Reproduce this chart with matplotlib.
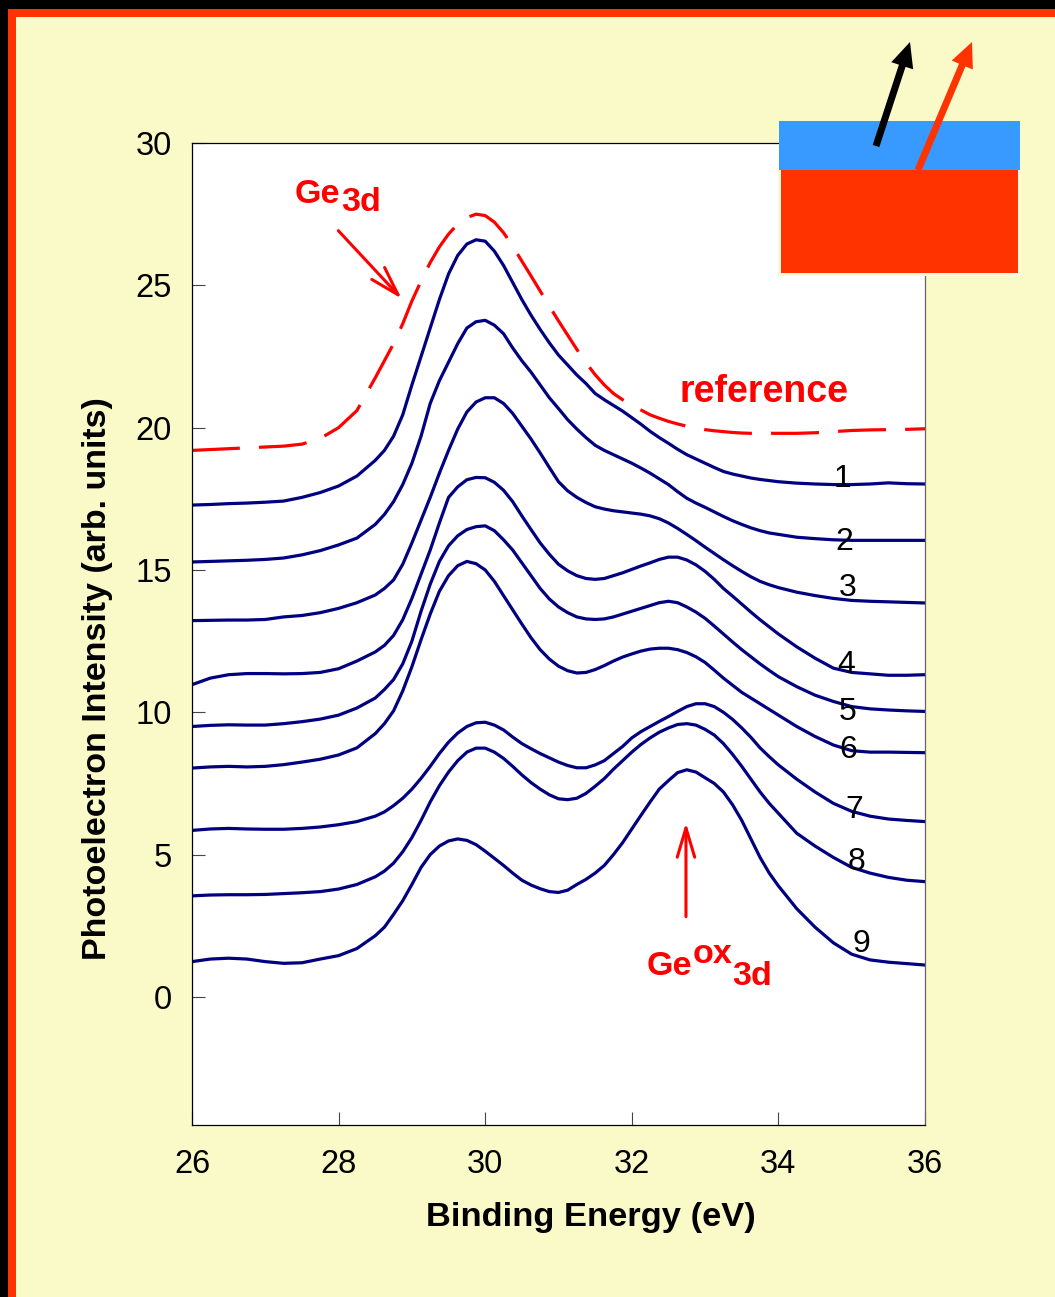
import matplotlib
matplotlib.use("Agg")
import matplotlib.pyplot as plt
from matplotlib.patches import Rectangle, FancyArrow

plt.rcParams['font.family'] = ['Liberation Sans', 'DejaVu Sans']

# Binding energy sampling (eV); finer steps across the peak region
energy = [26.0, 26.25, 26.5, 26.75, 27.0, 27.25, 27.5, 27.75, 28.0, 28.25, 28.5,
          28.625, 28.75, 28.875, 29.0, 29.125, 29.25, 29.375, 29.5, 29.625, 29.75, 29.875,
          30.0, 30.125, 30.25, 30.375, 30.5, 30.625, 30.75, 30.875,
          31.0, 31.125, 31.25, 31.375, 31.5, 31.625, 31.75, 31.875,
          32.0, 32.125, 32.25, 32.375, 32.5, 32.625, 32.75, 32.875,
          33.0, 33.125, 33.25, 33.375, 33.5, 33.625, 33.75, 33.875,
          34.0, 34.25, 34.5, 34.75, 35.0, 35.25, 35.5, 35.75, 36.0]

# Reference Ge 3d spectrum (offset for display)
reference = [19.20, 19.23, 19.26, 19.29, 19.32, 19.35, 19.42, 19.62, 20.0, 20.6, 21.75,
             22.35, 22.95, 23.65, 24.45, 25.15, 25.8, 26.35, 26.8, 27.15, 27.38, 27.5,
             27.45, 27.22, 26.85, 26.38, 25.85, 25.33, 24.8, 24.27,
             23.75, 23.25, 22.75, 22.28, 21.86, 21.5, 21.2, 20.98,
             20.8, 20.62, 20.45, 20.33, 20.22, 20.13, 20.05, 19.99,
             19.93, 19.89, 19.86, 19.83, 19.81, 19.8, 19.8, 19.8,
             19.80, 19.80, 19.82, 19.86, 19.90, 19.92, 19.93, 19.94, 19.96]

# Spectra 1-9 (stacked, arbitrary units)
spec1 = [17.28, 17.30, 17.33, 17.35, 17.38, 17.42, 17.55, 17.72, 17.95, 18.3, 18.85,
         19.2, 19.7, 20.45, 21.5, 22.5, 23.5, 24.5, 25.4, 26.05, 26.45, 26.6,
         26.55, 26.2, 25.7, 25.1, 24.5, 23.95, 23.45, 22.98,
         22.55, 22.2, 21.85, 21.55, 21.2, 20.98, 20.78, 20.58,
         20.35, 20.12, 19.87, 19.65, 19.45, 19.24, 19.05, 18.9,
         18.75, 18.6, 18.46, 18.37, 18.3, 18.23, 18.18, 18.14,
         18.1, 18.05, 18.02, 18.0, 18.0, 18.02, 18.06, 18.03, 18.02]
spec2 = [15.28, 15.30, 15.32, 15.34, 15.37, 15.42, 15.53, 15.68, 15.88, 16.12, 16.6,
         16.95, 17.4, 18.0, 18.75, 19.7, 20.85, 21.65, 22.3, 22.95, 23.5, 23.72,
         23.77, 23.6, 23.3, 22.8, 22.35, 21.95, 21.5, 21.05,
         20.67, 20.28, 19.95, 19.65, 19.38, 19.2, 19.05, 18.9,
         18.75, 18.58, 18.4, 18.2, 18.0, 17.75, 17.52, 17.35,
         17.2, 17.04, 16.88, 16.73, 16.6, 16.48, 16.38, 16.3,
         16.25, 16.15, 16.1, 16.06, 16.04, 16.04, 16.04, 16.04, 16.04]
spec3 = [13.22, 13.23, 13.24, 13.24, 13.26, 13.35, 13.4, 13.5, 13.65, 13.85, 14.12,
         14.35, 14.65, 15.2, 15.95, 16.75, 17.55, 18.4, 19.2, 19.95, 20.55, 20.9,
         21.05, 21.05, 20.85, 20.5, 20.05, 19.6, 19.11, 18.6,
         18.1, 17.78, 17.55, 17.37, 17.22, 17.14, 17.08, 17.04,
         17.0, 16.96, 16.9, 16.8, 16.65, 16.46, 16.25, 16.03,
         15.8, 15.58, 15.36, 15.15, 14.95, 14.76, 14.6, 14.48,
         14.38, 14.22, 14.1, 14.0, 13.93, 13.9, 13.88, 13.86, 13.84]
spec4 = [10.97, 11.2, 11.32, 11.36, 11.36, 11.35, 11.36, 11.4, 11.53, 11.8, 12.12,
         12.35, 12.7, 13.25, 14.0, 14.85, 15.7, 16.65, 17.55, 17.92, 18.17, 18.25,
         18.24, 18.08, 17.8, 17.4, 16.9, 16.42, 15.95, 15.55,
         15.2, 14.97, 14.8, 14.7, 14.67, 14.7, 14.8, 14.9,
         15.02, 15.14, 15.25, 15.37, 15.45, 15.45, 15.35, 15.18,
         14.95, 14.67, 14.35, 14.08, 13.8, 13.52, 13.25, 13.0,
         12.75, 12.3, 11.9, 11.55, 11.4, 11.35, 11.3, 11.3, 11.32]
spec5 = [9.5, 9.54, 9.56, 9.55, 9.55, 9.6, 9.67, 9.76, 9.9, 10.15, 10.5,
         10.8, 11.15, 11.7, 12.5, 13.55, 14.5, 15.3, 15.85, 16.2, 16.42, 16.52,
         16.55, 16.38, 16.06, 15.7, 15.25, 14.8, 14.35, 13.98,
         13.7, 13.5, 13.35, 13.28, 13.26, 13.28, 13.35, 13.45,
         13.55, 13.65, 13.75, 13.85, 13.9, 13.85, 13.7, 13.52,
         13.3, 13.03, 12.75, 12.47, 12.2, 11.95, 11.7, 11.47,
         11.25, 10.9, 10.6, 10.38, 10.2, 10.12, 10.08, 10.05, 10.03]
spec6 = [8.04, 8.08, 8.1, 8.08, 8.1, 8.16, 8.25, 8.35, 8.5, 8.75, 9.25,
         9.6, 10.05, 10.75, 11.6, 12.55, 13.45, 14.25, 14.8, 15.15, 15.3, 15.22,
         15.0, 14.6, 14.1, 13.6, 13.1, 12.62, 12.2, 11.87,
         11.62, 11.46, 11.38, 11.4, 11.5, 11.64, 11.8, 11.94,
         12.05, 12.15, 12.22, 12.25, 12.25, 12.2, 12.1, 11.95,
         11.75, 11.48, 11.2, 10.95, 10.7, 10.5, 10.3, 10.1,
         9.9, 9.5, 9.15, 8.85, 8.65, 8.6, 8.6, 8.59, 8.58]
spec7 = [5.85, 5.9, 5.92, 5.9, 5.89, 5.89, 5.92, 5.97, 6.05, 6.16, 6.35,
         6.5, 6.72, 6.98, 7.3, 7.68, 8.1, 8.55, 8.95, 9.27, 9.5, 9.63,
         9.65, 9.55, 9.38, 9.13, 8.9, 8.72, 8.55, 8.4,
         8.25, 8.13, 8.05, 8.05, 8.15, 8.3, 8.55, 8.8,
         9.1, 9.32, 9.5, 9.68, 9.85, 10.03, 10.2, 10.3,
         10.3, 10.2, 10.0, 9.75, 9.45, 9.12, 8.75, 8.44,
         8.15, 7.65, 7.2, 6.8, 6.52, 6.35, 6.25, 6.2, 6.16]
spec8 = [3.55, 3.58, 3.59, 3.59, 3.6, 3.63, 3.66, 3.7, 3.79, 3.95, 4.22,
         4.42, 4.7, 5.1, 5.6, 6.2, 6.85, 7.42, 7.9, 8.3, 8.6, 8.74,
         8.74, 8.6, 8.38, 8.1, 7.8, 7.53, 7.3, 7.1,
         6.96, 6.93, 6.98, 7.15, 7.4, 7.67, 8.0, 8.3,
         8.6, 8.87, 9.1, 9.3, 9.45, 9.57, 9.6, 9.55,
         9.4, 9.2, 8.9, 8.52, 8.1, 7.65, 7.2, 6.8,
         6.45, 5.75, 5.3, 4.9, 4.55, 4.35, 4.2, 4.1, 4.05]
spec9 = [1.24, 1.33, 1.36, 1.33, 1.24, 1.18, 1.2, 1.33, 1.45, 1.7, 2.15,
         2.45, 2.9, 3.38, 3.95, 4.55, 5.0, 5.3, 5.48, 5.55, 5.5, 5.35,
         5.12, 4.87, 4.62, 4.35, 4.1, 3.93, 3.8, 3.7,
         3.67, 3.75, 3.95, 4.13, 4.35, 4.62, 5.0, 5.42,
         5.9, 6.38, 6.85, 7.3, 7.6, 7.88, 7.98, 7.9,
         7.7, 7.5, 7.2, 6.75, 6.2, 5.55, 4.9, 4.35,
         3.9, 3.1, 2.45, 1.9, 1.5, 1.3, 1.22, 1.17, 1.12]

spectra = [spec1, spec2, spec3, spec4, spec5, spec6, spec7, spec8, spec9]
spectrum_labels = ['1', '2', '3', '4', '5', '6', '7', '8', '9']
label_x = [34.874, 34.895, 34.95, 34.93, 34.95, 34.95, 35.03, 35.07, 35.13]
label_base = [17.91, 15.69, 14.09, 11.38, 9.72, 8.38, 6.29, 4.47, 1.58]

W, H = 1055, 1297
BG = '#FAFAC8'
NAVY = '#000080'
RED = '#FF0000'
ORANGE_RED = '#FF3300'
SKY = '#3899FF'

fig = plt.figure(figsize=(W / 100, H / 100), dpi=100, facecolor=BG)
ax = fig.add_axes([192 / W, 1 - 1125 / H, 733 / W, 982 / H])
ax.set_facecolor('white')
ax.set_xlim(26, 36)
ax.set_ylim(-4.5, 30)
ax.set_xticks([26, 28, 30, 32, 34, 36])
ax.set_yticks([0, 5, 10, 15, 20, 25, 30])
ax.tick_params(direction='in', length=9.4, width=0.8, color='#444444',
               labelsize=23.5, labelcolor='black')
ax.tick_params(axis='x', pad=17.5)
ax.tick_params(axis='y', pad=14.4)
for sp in ax.spines.values():
    sp.set_linewidth(0.9)
    sp.set_color('black')
ax.spines['right'].set_color('#666666')

# Spectra
ax.plot(energy, reference, color=RED, lw=2.3, dashes=(15, 6),
        solid_joinstyle='round', dash_joinstyle='round')
for ys in spectra:
    ax.plot(energy, ys, color=NAVY, lw=2.3, solid_joinstyle='round')

for lab, lx, lb in zip(spectrum_labels, label_x, label_base):
    ax.text(lx, lb, lab, fontsize=23, ha='center', va='baseline', color='black')

# Peak annotations
ax.text(27.405, 27.90, 'Ge', fontsize=24.5, weight='bold', color=RED,
        ha='left', va='baseline')
ax.text(28.033, 27.62, '3d', fontsize=24.5, weight='bold', color=RED,
        ha='left', va='baseline')
ax.annotate('', xy=(28.861, 24.53), xytext=(27.996, 26.92),
            arrowprops=dict(arrowstyle='->,head_length=21,head_width=6.3',
                            mutation_scale=1, lw=2.2, color=RED,
                            shrinkA=0, shrinkB=0))

ax.text(32.644, 20.91, 'reference', fontsize=27, weight='bold', color=RED,
        ha='left', va='baseline')

ax.text(32.203, 0.773, 'Ge', fontsize=24.5, weight='bold', color=RED,
        ha='left', va='baseline')
ax.text(32.835, 1.195, 'ox', fontsize=24.5, weight='bold', color=RED,
        ha='left', va='baseline')
ax.text(33.363, 0.42, '3d', fontsize=24.5, weight='bold', color=RED,
        ha='left', va='baseline')
ax.annotate('', xy=(32.739, 6.12), xytext=(32.739, 2.82),
            arrowprops=dict(arrowstyle='->,head_length=21,head_width=6.3',
                            mutation_scale=1, lw=2.2, color=RED,
                            shrinkA=0, shrinkB=0))

# Axis titles
ax.text(0.5443, -0.1029, 'Binding Energy (eV)', transform=ax.transAxes,
        fontsize=24.8, weight='bold', ha='center', va='baseline')
ax.text(-0.1296, 0.4547, 'Photoelectron Intensity (arb. units)',
        transform=ax.transAxes, fontsize=24.5, weight='bold',
        ha='center', va='center', rotation=90)

# Overlay in pixel units: slide frame and the layer sketch
ov = fig.add_axes([0, 0, 1, 1], zorder=10)
ov.set_xlim(0, W)
ov.set_ylim(H, 0)
ov.axis('off')
ov.patch.set_alpha(0)

ov.add_patch(Rectangle((0, 0), W, 9, color='black', lw=0))
ov.add_patch(Rectangle((0, 0), 8, H, color='black', lw=0))
ov.add_patch(Rectangle((8, 9), W - 8, 8, color=ORANGE_RED, lw=0))
ov.add_patch(Rectangle((8, 9), 8, H - 9, color=ORANGE_RED, lw=0))

ov.add_patch(Rectangle((778, 168), 243, 107.5, color='#FFF8D8', lw=0))
ov.add_patch(Rectangle((780.7, 170), 237.6, 102.7, color=ORANGE_RED, lw=0))
ov.add_patch(Rectangle((779.3, 121), 240.7, 49, color=SKY, lw=0))

ov.add_patch(FancyArrow(876, 146, 34, -104, width=7, head_width=23,
                        head_length=25, length_includes_head=True,
                        color='black', lw=0))
ov.add_patch(FancyArrow(918, 170, 54, -128, width=7, head_width=23,
                        head_length=25, length_includes_head=True,
                        color=ORANGE_RED, lw=0))

fig.savefig('out.png', dpi=100, facecolor=BG)
